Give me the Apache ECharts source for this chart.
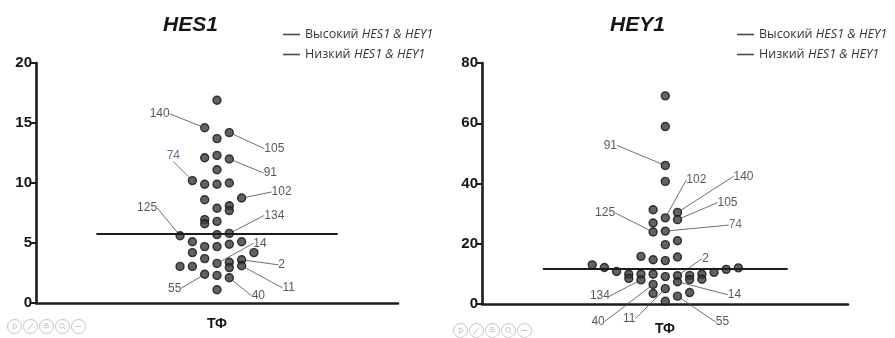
<!DOCTYPE html>
<html>
<head>
<meta charset="utf-8">
<script src="https://cdn.jsdelivr.net/npm/echarts@6/dist/echarts.min.js"></script>
<style>
  html, body { margin: 0; padding: 0; background: #fff; }
  #wrap { position: relative; width: 895px; height: 338px; }
  #hes1, #hey1 { position: absolute; top: 0; height: 338px; }
  #hes1 { left: 0; width: 448px; }
  #hey1 { left: 448px; width: 447px; }
</style>
</head>
<body>
<div id="wrap"><div id="hes1"></div><div id="hey1"></div></div>
<script>
// ---- data: relative expression per sample, with its column in the dot plot ----
const category = ['ТФ'];
const legendNames = ['Высокий HES1 & HEY1', 'Низкий HES1 & HEY1'];

const hes1Values = [16.9, 14.6, 14.2, 13.7, 12.1, 12.3, 12.0, 11.1, 10.2, 9.9, 9.9, 10.0,
  8.6, 8.75, 7.9, 8.1, 7.7, 6.95, 6.6, 6.8, 5.6, 5.7, 5.8, 5.1, 4.7, 4.7, 4.9, 5.1,
  4.2, 4.2, 3.7, 3.3, 3.4, 2.95, 3.6, 3.1, 3.05, 3.05, 2.4, 2.3, 2.1, 1.1];
const hes1Columns = [0, -1, 1, 0, -1, 0, 1, 0, -2, -1, 0, 1,
  -1, 2, 0, 1, 1, -1, -1, 0, -3, 0, 1, -2, -1, 0, 1, 2,
  -2, 3, -1, 0, 1, 1, 2, 2, -3, -2, -1, 0, 1, 0];
const hes1Samples = [null, 140, 105, null, null, null, 91, null, 74, null, null, null,
  null, 102, null, null, null, null, null, null, 125, null, 134, null, null, null, null, null,
  null, null, null, 14, null, null, 2, 11, null, null, 55, null, 40, null];
const hes1Median = 5.78;
const hes1Ticks = [0, 5, 10, 15, 20];

const hey1Values = [69.1, 58.9, 46.0, 40.7, 31.3, 30.4, 28.6, 28.0, 26.9, 24.2, 23.9, 21.0,
  19.7, 15.8, 15.6, 14.7, 14.4, 13.0, 12.1, 12.0, 11.5, 10.8, 10.5, 9.9, 9.9, 9.9, 9.9,
  9.5, 9.4, 9.1, 8.5, 8.2, 8.1, 8.0, 7.4, 6.5, 5.1, 3.8, 3.5, 2.6, 0.9];
const hey1Columns = [0, 0, 0, 0, -1, 1, 0, 1, -1, 0, -1, 1,
  0, -2, 1, -1, 0, -6, -5, 6, 5, -4, 4, -3, -2, -1, 3,
  2, 1, 0, -3, 3, 2, -2, 1, -1, 0, 2, -1, 1, 0];
const hey1Samples = [null, null, 91, null, null, 140, 102, 105, null, 74, 125, null,
  null, null, null, null, null, null, null, null, null, null, null, null, null, null, null,
  null, 2, null, null, null, null, 134, 14, 40, 11, null, null, 55, null];
const hey1Median = 11.6;
const hey1Ticks = [0, 20, 40, 60, 80];

// ---- layout / styling ----
const labelOffsetsHes1 = {
  140: [-45, -14], 105: [45, 16], 74: [-19, -25], 91: [41, 14], 102: [40, -6],
  134: [45, -18], 125: [-33, -28], 14: [43, -20], 2: [40, 5], 11: [47, 22],
  55: [-30, 14], 40: [29, 18]
};
const labelOffsetsHey1 = {
  91: [-55, -20], 102: [31, -38], 140: [66, -36], 105: [50, -17], 74: [70, -6],
  125: [-48, -19], 2: [28, -17], 14: [57, 13], 134: [-41, 16], 40: [-55, 37],
  11: [-36, 30], 55: [45, 26]
};
const blueLabels = [74];

const INK = '#1c1c1c';
const ring = 'path://M0,6A6,6,0,1,1,12,6A6,6,0,1,1,0,6Z';
const toolIcons = [
  ring + 'M5,3.6L8.6,6L5,8.4Z',
  ring + 'M4,8.5L8.2,3.6M3.8,8.6L4.6,8.2',
  ring + 'M3.6,5L8.4,5M3.6,7L8.4,7M4.5,3.6L7.5,3.6',
  ring + 'M5.5,3.4A2,2,0,1,1,5.5,7.4A2,2,0,1,1,5.5,3.4M7,7L8.6,8.6',
  ring + 'M3.6,6L8.4,6'
];

function buildOption(cfg) {
  const high = [], low = [];
  cfg.values.forEach((v, i) => {
    const id = cfg.samples[i];
    const item = { value: [cfg.columns[i], v] };
    if (id !== null) {
      item.name = String(id);
      item.label = {
        show: true,
        color: blueLabels.indexOf(id) >= 0 ? '#34507a' : '#2e2e2e'
      };
    }
    (v > cfg.median ? high : low).push(item);
  });

  const dotSeries = (name, data) => ({
    name: name,
    type: 'scatter',
    xAxisIndex: 1,
    yAxisIndex: 0,
    data: data,
    symbolSize: 8,
    itemStyle: { color: '#3b3b3b', borderColor: '#111', borderWidth: 1.4 },
    label: {
      show: false,
      position: 'inside',
      formatter: p => p.name,
      fontFamily: 'Liberation Sans',
      fontSize: 12
    },
    labelLayout: p => {
      const off = cfg.offsets[p.text] || [0, 0];
      return { dx: off[0], dy: off[1], hideOverlap: false };
    },
    labelLine: { show: true, lineStyle: { color: '#4a4a4a', width: 0.8 } },
    emphasis: { disabled: true },
    z: 3
  });

  const tools = {};
  toolIcons.forEach((icon, k) => {
    tools['myTool' + k] = { show: true, title: '', icon: icon, onclick: function () {} };
  });

  return {
    animation: false,
    backgroundColor: '#fff',
    title: {
      text: cfg.title,
      left: cfg.titleLeft,
      top: 10,
      textStyle: {
        fontFamily: 'Liberation Sans',
        fontSize: 21,
        fontWeight: 'bold',
        fontStyle: 'italic',
        color: '#151515'
      }
    },
    legend: {
      data: legendNames,
      orient: 'vertical',
      left: cfg.legendLeft,
      top: 23,
      itemGap: 7,
      itemWidth: 17,
      itemHeight: 1.6,
      icon: 'rect',
      selectedMode: false,
      itemStyle: { borderWidth: 0, color: '#1e1e1e' },
      formatter: name => {
        const parts = name.split(' ');
        return '{r|' + parts[0] + '} {i|' + parts.slice(1).join(' ') + '}';
      },
      textStyle: {
        color: '#333',
        rich: {
          r: { fontFamily: 'Open Sans', fontSize: 12.5, color: '#333', lineHeight: 16 },
          i: { fontFamily: 'Open Sans', fontSize: 12.5, fontStyle: 'italic', color: '#333', lineHeight: 16 }
        }
      }
    },
    toolbox: {
      show: true,
      orient: 'horizontal',
      left: cfg.toolLeft,
      top: cfg.toolTop,
      padding: 0,
      itemSize: 14,
      itemGap: -3,
      showTitle: false,
      iconStyle: { borderColor: '#c4c4c4', borderWidth: 1, color: 'none' },
      emphasis: { iconStyle: { borderColor: '#c4c4c4' } },
      feature: tools
    },
    grid: {
      left: cfg.grid.left, top: cfg.grid.top,
      width: cfg.grid.width, height: cfg.grid.height
    },
    xAxis: [
      {
        type: 'category',
        data: category,
        boundaryGap: true,
        axisLine: { lineStyle: { color: INK, width: 2.6 } },
        axisTick: { alignWithLabel: true, length: 5, lineStyle: { color: INK, width: 2 } },
        axisLabel: {
          margin: cfg.xLabelMargin,
          fontFamily: 'Liberation Sans',
          fontWeight: 'bold',
          fontSize: 14,
          color: '#151515'
        }
      },
      {
        type: 'value',
        min: cfg.colMin,
        max: cfg.colMax,
        show: false
      }
    ],
    yAxis: {
      type: 'value',
      min: cfg.ticks[0],
      max: cfg.ticks[cfg.ticks.length - 1],
      interval: cfg.ticks[1] - cfg.ticks[0],
      axisLine: { show: true, onZero: false, lineStyle: { color: INK, width: 2.6 } },
      axisTick: { show: true, length: 5, lineStyle: { color: INK, width: 2 } },
      splitLine: { show: false },
      axisLabel: {
        margin: 4,
        fontFamily: 'Liberation Sans',
        fontWeight: 'bold',
        fontSize: 15,
        color: '#151515'
      }
    },
    series: [
      dotSeries(legendNames[0], high),
      dotSeries(legendNames[1], low),
      {
        type: 'line',
        xAxisIndex: 1,
        yAxisIndex: 0,
        data: [],
        silent: true,
        markLine: {
          silent: true,
          symbol: 'none',
          label: { show: false },
          lineStyle: { color: INK, width: 2.2, type: 'solid' },
          data: [[
            { coord: [-cfg.medianHalf, cfg.median] },
            { coord: [cfg.medianHalf, cfg.median] }
          ]]
        }
      }
    ]
  };
}

const hes1Chart = echarts.init(document.getElementById('hes1'), null, { renderer: 'canvas' });
hes1Chart.setOption(buildOption({
  title: 'HES1', titleLeft: 158, legendLeft: 278,
  toolLeft: 5, toolTop: 317,
  grid: { left: 36, top: 63, width: 362, height: 240 },
  colMin: -14.7, colMax: 14.7, xLabelMargin: 14,
  values: hes1Values, columns: hes1Columns, samples: hes1Samples,
  median: hes1Median, medianHalf: 9.8, ticks: hes1Ticks, offsets: labelOffsetsHes1
}));

const hey1Chart = echarts.init(document.getElementById('hey1'), null, { renderer: 'canvas' });
hey1Chart.setOption(buildOption({
  title: 'HEY1', titleLeft: 157, legendLeft: 284,
  toolLeft: 3, toolTop: 321,
  grid: { left: 34, top: 63, width: 366, height: 241 },
  colMin: -15.05, colMax: 15.0, xLabelMargin: 18,
  values: hey1Values, columns: hey1Columns, samples: hey1Samples,
  median: hey1Median, medianHalf: 10.05, ticks: hey1Ticks, offsets: labelOffsetsHey1
}));
</script>
</body>
</html>
